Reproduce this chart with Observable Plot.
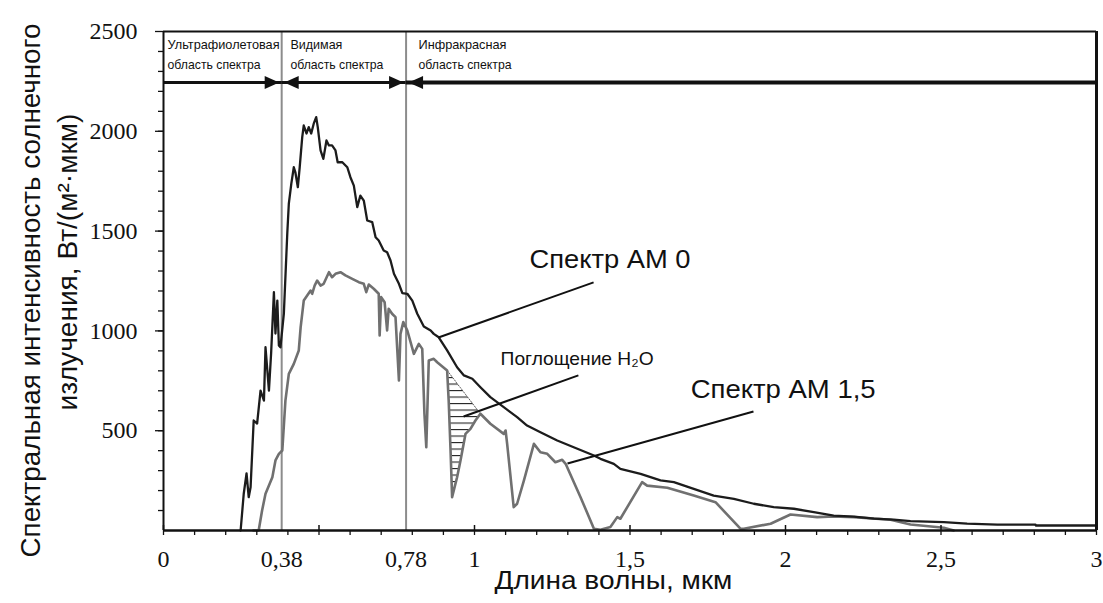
<!DOCTYPE html>
<html><head><meta charset="utf-8">
<script src="https://cdn.jsdelivr.net/npm/d3@7"></script>
<script src="https://cdn.jsdelivr.net/npm/@observablehq/plot@0.6"></script>
<style>html,body{margin:0;padding:0;background:#fff;}</style>
</head><body><div id="chart"></div>
<script>
// ---- Data (wavelength in µm, intensity in W/(m²·µm)) ----
const am0X = [0.248,0.258,0.267,0.274,0.280,0.290,0.301,0.312,0.323,0.328,0.339,0.346,0.355,0.360,0.366,0.371,0.376,0.387,0.398,0.403,0.411,0.419,0.424,0.432,0.438,0.446,0.451,0.460,0.467,0.475,0.483,0.491,0.496,0.505,0.514,0.524,0.532,0.542,0.553,0.560,0.575,0.591,0.601,0.612,0.623,0.633,0.644,0.655,0.671,0.682,0.692,0.708,0.719,0.730,0.741,0.757,0.768,0.784,0.800,0.816,0.837,0.859,0.869,0.885,0.912,0.944,0.966,0.993,1.019,1.051,1.094,1.137,1.169,1.212,1.266,1.319,1.384,1.405,1.448,1.469,1.534,1.598,1.641,1.705,1.769,1.834,1.898,1.962,2.027,2.091,2.155,2.220,2.284,2.348,2.402,2.509,2.584,2.681,2.804,2.805,3.0];
const am0Y = [0,184,286,167,217,551,536,701,651,918,701,887,1194,987,1152,927,918,1087,1488,1638,1738,1820,1795,1720,1820,1970,2029,1989,2021,1989,2038,2071,2021,1904,1862,1954,1929,1929,1904,1845,1845,1820,1770,1728,1620,1678,1653,1553,1545,1469,1453,1403,1394,1353,1286,1236,1189,1186,1152,1086,1022,1002,985,968,902,818,777,760,718,668,618,568,526,492,451,417,376,359,334,309,284,251,242,209,175,159,134,117,109,92,75,70,59,54,47,42,34,29,29,25,25];

const am15X = [0.289,0.306,0.317,0.328,0.350,0.360,0.371,0.382,0.392,0.403,0.419,0.435,0.441,0.451,0.462,0.473,0.478,0.486,0.494,0.505,0.515,0.532,0.542,0.553,0.569,0.585,0.607,0.628,0.644,0.652,0.660,0.676,0.692,0.695,0.700,0.711,0.719,0.724,0.735,0.746,0.757,0.762,0.771,0.784,0.805,0.821,0.832,0.839,0.845,0.853,0.869,0.880,0.912,0.917,0.923,0.928,0.936,0.944,0.955,0.971,0.987,1.003,1.019,1.051,1.094,1.100,1.105,1.126,1.137,1.159,1.191,1.212,1.234,1.260,1.282,1.293,1.341,1.384,1.405,1.437,1.459,1.469,1.539,1.555,1.620,1.705,1.775,1.855,1.866,1.952,2.016,2.102,2.155,2.220,2.338,2.402,2.509,2.541];
const am15Y = [0,0,100,184,267,351,384,401,651,785,835,902,1019,1152,1177,1202,1186,1227,1252,1227,1236,1294,1269,1286,1294,1278,1261,1244,1236,1194,1232,1211,1186,977,1169,1144,1002,1111,1086,1069,752,985,1044,1002,885,935,910,585,417,852,860,843,802,651,401,167,217,267,351,484,509,551,585,535,484,501,434,117,134,251,434,392,384,342,354,334,167,9,4,17,67,59,242,225,214,175,142,9,9,34,80,67,70,67,54,30,14,0];

// H2O absorption band (hatched): dip of AM 1.5 and its bridging envelope
const hatchX    = [0.912,0.917,0.923,0.928,0.936,0.944,0.955,0.971,0.987,1.003,1.019];
const hatchLow  = [802,651,401,167,217,267,351,484,509,551,585];
const hatchHigh = [802,792,780,769,754,736,715,682,650,617,585];

// Spectral regions
const bandEdges = [0, 0.38, 0.78, 3];
const bandArrowY = 2244;
const bandLabelText = ["Ультрафиолетовая","область спектра","Видимая","область спектра","Инфракрасная","область спектра"];
const bandLabelX = [0.013,0.013,0.408,0.408,0.82,0.82];
const bandLabelY = [2410,2310,2410,2310,2410,2310];

// Annotations
const noteText = ["Спектр АМ 0","Спектр АМ 1,5","Поглощение H₂O"];
const noteX = [1.177,1.695,1.084];
const noteY = [1313,666,827];
const leaderX1 = [0.884,1.299,0.965];
const leaderY1 = [967,336,571];
const leaderX2 = [1.383,1.897,1.334];
const leaderY2 = [1243,596,777];

// Axes
const yMajorTicks = [500,1000,1500,2000,2500];
const yMinorTicks = d3.range(100,2500,100);
const xMinorTicks = d3.range(0,31).map(i => i/10);
const xMajorTicks = [0,0.5,1,1.5,2,2.5,3];
const xTickValues = [0,0.38,0.78,1,1.5,2,2.5,3];
const xTickLabels = ["0","0,38","0,78","1","1,5","2","2,5","3"];
const xTitle = "Длина волны, мкм";
const yTitle = ["Спектральная интенсивность солнечного","излучения, Вт/(м²·мкм)"];

// ---- Build tables ----
const am0 = am0X.map((x,i) => ({x, y: am0Y[i]}));
const am15 = am15X.map((x,i) => ({x, y: am15Y[i]}));
const hatch = hatchX.map((x,i) => ({x, low: hatchLow[i], high: hatchHigh[i]}));
const segments = [0,1,2].map(i => ({x1: bandEdges[i], x2: bandEdges[i+1], w: i === 2 ? 4 : 3}));
const bandLabels = bandLabelText.map((t,i) => ({t, x: bandLabelX[i], y: bandLabelY[i]}));
const notes = noteText.map((t,i) => ({t, x: noteX[i], y: noteY[i]}));
const leaders = leaderX1.map((x1,i) => ({x1, y1: leaderY1[i], x2: leaderX2[i], y2: leaderY2[i]}));
const headsRight = [bandEdges[1], bandEdges[2]].map(x => ({x, y: bandArrowY}));
const headsLeft = [bandEdges[1], bandEdges[2]].map(x => ({x, y: bandArrowY}));

const arrowRight = {draw(ctx){ ctx.moveTo(-2.5,0); ctx.lineTo(-17,-6.5); ctx.lineTo(-17,6.5); ctx.closePath(); }};
const arrowLeft  = {draw(ctx){ ctx.moveTo(2.5,0); ctx.lineTo(17,-6.5); ctx.lineTo(17,6.5); ctx.closePath(); }};

const sans = "Liberation Sans, Arial, sans-serif";
const serif = "Liberation Serif, Times New Roman, serif";

const chart = Plot.plot({
  width: 1103, height: 603,
  marginLeft: 163, marginRight: 7, marginTop: 31, marginBottom: 73,
  style: {background: "#fff", color: "#111", fontFamily: serif, fontSize: "24px", overflow: "visible"},
  x: {domain: [0,3], label: null},
  y: {domain: [0,2500], label: null},
  marks: [
    Plot.areaY(hatch, {x: "x", y1: "low", y2: "high", fill: "url(#hatch)", stroke: "none"}),
    Plot.line(hatch, {x: "x", y: "high", stroke: "#333", strokeWidth: 0.8, strokeDasharray: "1.5,1.5"}),
    Plot.ruleX([bandEdges[1], bandEdges[2]], {stroke: "#8c8c8c", strokeWidth: 2}),
    Plot.line(am15, {x: "x", y: "y", stroke: "#707070", strokeWidth: 2.6, strokeLinejoin: "round"}),
    Plot.line(am0, {x: "x", y: "y", stroke: "#1c1c1c", strokeWidth: 2.3, strokeLinejoin: "round"}),
    Plot.link(leaders, {x1: "x1", y1: "y1", x2: "x2", y2: "y2", stroke: "#111", strokeWidth: 2}),
    Plot.text(notes.slice(0,2), {x: "x", y: "y", text: "t", textAnchor: "start", lineAnchor: "bottom", fontFamily: sans, fontSize: 26, fill: "#111"}),
    Plot.text(notes.slice(2), {x: "x", y: "y", text: "t", textAnchor: "start", lineAnchor: "bottom", fontFamily: sans, fontSize: 19, fill: "#111"}),
    Plot.ruleY(segments, {y: bandArrowY, x1: "x1", x2: "x2", strokeWidth: "w", stroke: "#111"}),
    Plot.dot(headsRight, {x: "x", y: "y", symbol: arrowRight, fill: "#111", stroke: "none"}),
    Plot.dot(headsLeft, {x: "x", y: "y", symbol: arrowLeft, fill: "#111", stroke: "none"}),
    Plot.text(bandLabels, {x: "x", y: "y", text: "t", textAnchor: "start", lineAnchor: "bottom", fontFamily: sans, fontSize: 13.5, fill: "#111"}),
    Plot.ruleY([2500], {stroke: "#111", strokeWidth: 2}),
    Plot.ruleX([3], {stroke: "#111", strokeWidth: 3}),
    Plot.ruleX([0], {stroke: "#111", strokeWidth: 2}),
    Plot.ruleY([0], {stroke: "#111", strokeWidth: 2.5}),
    Plot.ruleX(xMajorTicks, {y1: 0, y2: 25, stroke: "#111", strokeWidth: 1.5}),
    Plot.axisX({ticks: xMinorTicks, tickSize: 5, tickFormat: () => "", strokeWidth: 1.3, label: null}),
    Plot.axisX({ticks: xTickValues, tickSize: 0, tickPadding: 19, tickFormat: d => xTickLabels[xTickValues.indexOf(d)], fontFamily: serif, fontSize: 24, label: null}),
    Plot.axisY({ticks: yMinorTicks, tickSize: 5, tickFormat: () => "", strokeWidth: 1.3, label: null}),
    Plot.axisY({ticks: yMajorTicks, tickSize: 8, tickPadding: 18, tickFormat: d => String(d), fontFamily: serif, fontSize: 24, strokeWidth: 1.3, label: null}),
    Plot.text([xTitle], {x: 1.064, frameAnchor: "bottom", dy: 58, text: d => d, textAnchor: "start", lineAnchor: "bottom", fontFamily: sans, fontSize: 25, fill: "#111"}),
    Plot.text([yTitle[0]], {y: -135, frameAnchor: "left", dx: -132, rotate: -90, text: d => d, textAnchor: "start", lineAnchor: "middle", fontFamily: sans, fontSize: 27, fill: "#111"}),
    Plot.text([yTitle[1]], {y: 601, frameAnchor: "left", dx: -95, rotate: -90, text: d => d, textAnchor: "start", lineAnchor: "middle", fontFamily: sans, fontSize: 27, fill: "#111"})
  ]
});

// hatch pattern definition
const ns = "http://www.w3.org/2000/svg";
const defs = document.createElementNS(ns, "defs");
const pat = document.createElementNS(ns, "pattern");
pat.setAttribute("id", "hatch");
pat.setAttribute("patternUnits", "userSpaceOnUse");
pat.setAttribute("width", "8");
pat.setAttribute("height", "6.5");
const r = document.createElementNS(ns, "rect");
r.setAttribute("x", "0"); r.setAttribute("y", "0"); r.setAttribute("width", "8"); r.setAttribute("height", "1.1");
r.setAttribute("fill", "#222");
pat.appendChild(r);
defs.appendChild(pat);
chart.insertBefore(defs, chart.firstChild);

// fit text widths to the reference
const widths = new Map([
  [yTitle[0], 534], [yTitle[1], 297], [xTitle, 238],
  ["Спектр АМ 0", 161], ["Спектр АМ 1,5", 185], ["Поглощение H₂O", 153],
  ["Ультрафиолетовая", 112], ["область спектра", 93], ["Видимая", 52], ["Инфракрасная", 88]
]);
chart.querySelectorAll("text").forEach(t => {
  const w = widths.get(t.textContent);
  if (w) { t.setAttribute("textLength", w); t.setAttribute("lengthAdjust", "spacingAndGlyphs"); }
});

document.getElementById("chart").appendChild(chart);
</script>
</body></html>
